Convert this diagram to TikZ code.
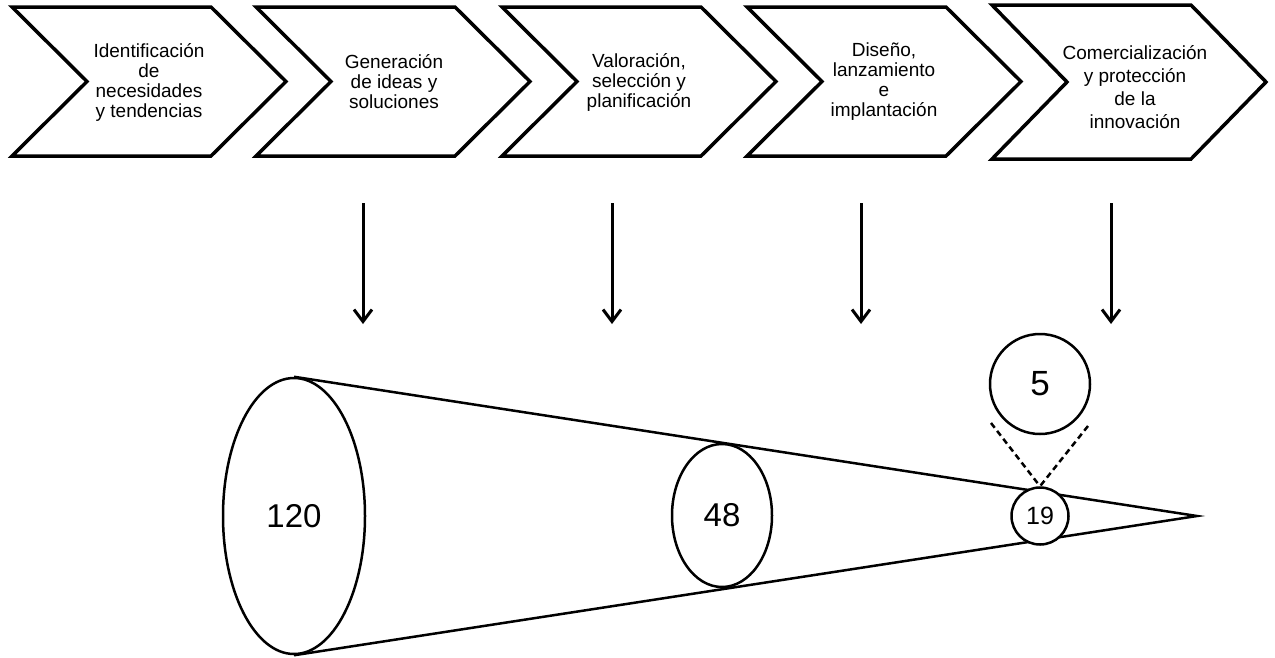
\documentclass[tikz,border=0pt]{standalone}
\usepackage{fontspec}
\setmainfont{Liberation Sans}
\usetikzlibrary{shapes.geometric,arrows.meta}
\begin{document}
\begin{tikzpicture}[x=1pt,y=-1pt,
  chev/.style={draw=black,line width=3.5pt,line join=miter,fill=white},
  steplabel/.style={align=center,font=\fontsize{19}{20}\selectfont,inner sep=0pt},
  flow/.style={line width=3pt,-{Straight Barb[length=12pt,width=18pt]}},
  ring/.style={draw=black,line width=2.5pt,fill=white,inner sep=0pt},
  cone/.style={line width=2.5pt,line join=miter},
  guide/.style={line width=2.5pt,dash pattern=on 6pt off 4pt}]
\useasboundingbox (0,0) rectangle (1275,657);

% process chevrons: left edge / top / bottom
\foreach \L/\T/\B in {12/7/156, 256/7/156, 502/7/156, 747/7/156, 992/5/159}{
  \draw[chev] (\L,\T) -- (\L+199,\T) -- (\L+274,{(\T+\B)/2}) -- (\L+199,\B)
    -- (\L,\B) -- (\L+75,{(\T+\B)/2}) -- cycle;
}

\node[steplabel] (t1) at (149,82) {Identificación\\de\\necesidades\\y tendencias};
\node[steplabel] (t2) at (394,82) {Generación\\de ideas y\\soluciones};
\node[steplabel] (t3) at (639,82) {Valoración,\\selección y\\planificación};
\node[steplabel] (t4) at (884,82) {Diseño,\\lanzamiento\\e\\implantación};
\node[steplabel,font=\fontsize{19}{23}\selectfont] (t5) at (1135,87)
  {Comercialización\\y protección\\de la\\innovación};

% downward arrows
\foreach \x [count=\i] in {363,612,861,1111}{
  \coordinate (s\i) at (\x,203);
  \coordinate (e\i) at (\x,324);
  \draw[flow] (s\i) -- (e\i);
}

% funnel
\node[ring,ellipse,minimum width=142pt,minimum height=276pt,
  font=\fontsize{33}{36}\selectfont] (n120) at (294,516) {120};
\coordinate (tip) at (1197,516);
\draw[cone] (n120.north) -- (tip) -- (n120.south);

\node[ring,ellipse,minimum width=100pt,minimum height=143pt,
  font=\fontsize{33}{36}\selectfont] (n48) at (722,515.5) {48};
\node[ring,circle,minimum size=57pt,
  font=\fontsize{25}{28}\selectfont] (n19) at (1040,516) {19};
\node[ring,circle,minimum size=100pt,
  font=\fontsize{35}{38}\selectfont] (n5) at (1040,384) {5};

\coordinate (g1) at (991,423);
\coordinate (g2) at (1088,426);
\draw[guide] (g1) -- (n19.north);
\draw[guide] (g2) -- (n19.north);
\end{tikzpicture}
\end{document}
